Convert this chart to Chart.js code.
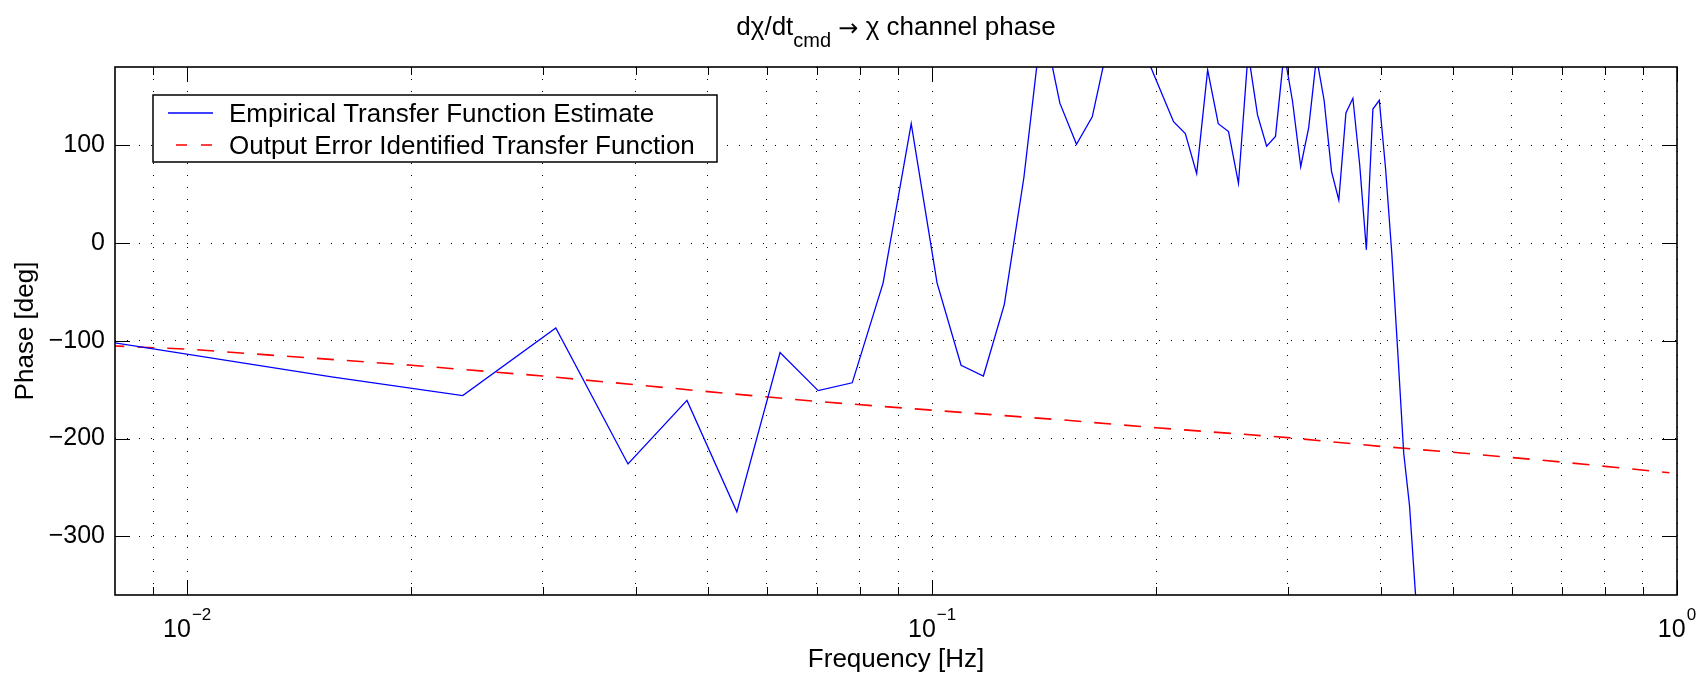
<!DOCTYPE html>
<html lang="en">
<head>
<meta charset="UTF-8">
<title>dχ/dt cmd → χ channel phase</title>
<script src="https://cdn.jsdelivr.net/npm/chart.js"></script>
<style>
  html, body { margin: 0; padding: 0; background: #fff; }
  #chart { display: block; }
</style>
</head>
<body>
<canvas id="chart" width="1702" height="686"></canvas>
<script>
// empirical transfer function estimate (FFT bins, Hz / deg)
const etfeFreq = [
  0.0078125, 0.015625, 0.0234375, 0.03125, 0.0390625, 0.046875, 0.0546875, 0.0625,
  0.0703125, 0.078125, 0.0859375, 0.09375, 0.1015625, 0.109375, 0.1171875, 0.125,
  0.1328125, 0.140625, 0.1484375, 0.15625, 0.1640625, 0.171875, 0.1796875, 0.1875,
  0.1953125, 0.203125, 0.2109375, 0.21875, 0.2265625, 0.234375, 0.2421875, 0.25,
  0.2578125, 0.265625, 0.2734375, 0.28125, 0.2890625, 0.296875, 0.3046875, 0.3125,
  0.3203125, 0.328125, 0.3359375, 0.34375, 0.3515625, 0.359375, 0.3671875, 0.375,
  0.3828125, 0.390625, 0.3984375, 0.40625, 0.4140625, 0.421875, 0.4296875, 0.4375,
  0.4453125, 0.453125
];
const etfePhase = [
  -101, -137, -156, -87, -226, -161, -275, -112,
  -151, -143, -41, 122, -41, -125, -136, -63,
  67, 230, 143, 101, 129, 200, 210, 205,
  185, 154, 124, 112, 71, 177, 122, 114,
  61, 195, 131, 99, 109, 195, 145, 78,
  118, 190, 146, 73, 44, 133, 148, 80,
  -7, 137, 146, 76, -10, -112, -215, -269,
  -356, -430
];

// output error model
const modelFreq = [0.0078125, 0.01, 0.02, 0.03, 0.05, 0.07, 0.1, 0.15, 0.2, 0.3, 0.4, 0.5, 0.7, 0.9765625];
const modelPhase = [-105, -108.5, -125, -136, -152, -162, -171, -181, -189, -199, -208, -214, -224, -235];

const xTickValues = [0.009, 0.01, 0.02, 0.03, 0.04, 0.05, 0.06, 0.07, 0.08, 0.09,
  0.1, 0.2, 0.3, 0.4, 0.5, 0.6, 0.7, 0.8, 0.9, 1];
const xMajorTicks = [0.01, 0.1, 1];
const xTickExponents = ['\u22122', '\u22121', '0'];
const yTickValues = [-300, -200, -100, 0, 100];

const titleParts = [
  { text: 'd\u03c7/dt', kind: 'main' },
  { text: 'cmd', kind: 'sub' },
  { text: ' ', kind: 'main' },
  { text: '\u2192', kind: 'arrow' },
  { text: ' \u03c7 channel phase', kind: 'main' }
];
const xTitle = 'Frequency [Hz]';
const yTitle = 'Phase [deg]';

const FONT = '"Liberation Sans", Arial, Helvetica, sans-serif';
const titleFonts = {
  main: '26px ' + FONT,
  sub: '20px ' + FONT,
  arrow: '24px "DejaVu Sans", sans-serif'
};

const matlabFrame = {
  id: 'matlabFrame',
  afterDraw(chart) {
    const { ctx, chartArea: a, scales: { x, y } } = chart;
    ctx.save();

    // inward tick marks on all four sides
    ctx.strokeStyle = '#000';
    ctx.lineWidth = 1;
    ctx.beginPath();
    xTickValues.forEach(v => {
      const px = Math.round(x.getPixelForValue(v)) + 0.5;
      const len = xMajorTicks.includes(v) ? 15 : 8;
      ctx.moveTo(px, a.bottom); ctx.lineTo(px, a.bottom - len);
      ctx.moveTo(px, a.top); ctx.lineTo(px, a.top + len);
    });
    yTickValues.forEach(v => {
      const py = Math.round(y.getPixelForValue(v)) + 0.5;
      ctx.moveTo(a.left, py); ctx.lineTo(a.left + 15, py);
      ctx.moveTo(a.right, py); ctx.lineTo(a.right - 15, py);
    });
    ctx.stroke();

    ctx.lineWidth = 1.6;
    ctx.strokeRect(a.left, a.top, a.right - a.left, a.bottom - a.top);

    // x tick labels as powers of ten
    ctx.fillStyle = '#000';
    ctx.textAlign = 'left';
    ctx.textBaseline = 'alphabetic';
    xMajorTicks.forEach((v, i) => {
      const px = x.getPixelForValue(v);
      ctx.font = '25px ' + FONT;
      const wBase = ctx.measureText('10').width;
      ctx.font = '17px ' + FONT;
      const wExp = ctx.measureText(xTickExponents[i]).width;
      const left = px - (wBase + wExp + 1) / 2;
      ctx.font = '25px ' + FONT;
      ctx.fillText('10', left, a.bottom + 42);
      ctx.font = '17px ' + FONT;
      ctx.fillText(xTickExponents[i], left + wBase + 1, a.bottom + 25);
    });

    // axis titles
    ctx.font = '26px ' + FONT;
    ctx.textAlign = 'center';
    ctx.fillText(xTitle, (a.left + a.right) / 2, a.bottom + 72);
    ctx.save();
    ctx.translate(33, (a.top + a.bottom) / 2);
    ctx.rotate(-Math.PI / 2);
    ctx.fillText(yTitle, 0, 0);
    ctx.restore();

    // title with subscript
    ctx.textAlign = 'left';
    let total = 0;
    const widths = titleParts.map(p => {
      ctx.font = titleFonts[p.kind];
      const w = ctx.measureText(p.text).width;
      total += w;
      return w;
    });
    let tx = (a.left + a.right) / 2 - total / 2;
    titleParts.forEach((p, i) => {
      ctx.font = titleFonts[p.kind];
      ctx.fillText(p.text, tx, p.kind === 'sub' ? 47 : p.kind === 'arrow' ? 36 : 35);
      tx += widths[i];
    });

    // legend box
    const lx = a.left + 38, ly = a.top + 28, lw = 564, lh = 67;
    ctx.fillStyle = '#fff';
    ctx.fillRect(lx, ly, lw, lh);
    ctx.lineWidth = 1.5;
    ctx.strokeStyle = '#000';
    ctx.strokeRect(lx, ly, lw, lh);
    const rows = [ly + 18, ly + 50];
    chart.data.datasets.forEach((ds, i) => {
      ctx.strokeStyle = ds.borderColor;
      ctx.lineWidth = ds.borderWidth;
      ctx.setLineDash(ds.borderDash ? [11, 14] : []);
      ctx.lineDashOffset = ds.borderDash ? -8 : 0;
      ctx.beginPath();
      ctx.moveTo(lx + 15, rows[i]);
      ctx.lineTo(lx + 60, rows[i]);
      ctx.stroke();
      ctx.setLineDash([]);
      ctx.fillStyle = '#000';
      ctx.font = '26px ' + FONT;
      ctx.textBaseline = 'alphabetic';
      ctx.fillText(ds.label, lx + 76, rows[i] + 9);
    });

    ctx.restore();
  }
};

const ctx = document.getElementById('chart').getContext('2d');
const chart = new Chart(ctx, {
  type: 'line',
  data: {
    datasets: [
      {
        label: 'Empirical Transfer Function Estimate',
        data: etfeFreq.map((f, i) => ({ x: f, y: etfePhase[i] })),
        borderColor: '#0000ff',
        borderWidth: 1.3,
        pointRadius: 0,
        tension: 0,
        fill: false,
        clip: 0
      },
      {
        label: 'Output Error Identified Transfer Function',
        data: modelFreq.map((f, i) => ({ x: f, y: modelPhase[i] })),
        borderColor: '#ff0000',
        borderWidth: 1.6,
        borderDash: [17, 13],
        pointRadius: 0,
        tension: 0,
        fill: false,
        clip: 0
      }
    ]
  },
  options: {
    responsive: false,
    animation: false,
    devicePixelRatio: 1,
    layout: { padding: { left: 0, right: 25, top: 67, bottom: 0 } },
    plugins: {
      legend: { display: false },
      tooltip: { enabled: false },
      title: { display: false }
    },
    scales: {
      x: {
        type: 'logarithmic',
        min: 0.008,
        max: 1,
        afterBuildTicks: s => { s.ticks = xTickValues.map(v => ({ value: v })); },
        afterFit: s => { s.height = 91; },
        ticks: { display: false },
        grid: { color: '#000', lineWidth: 1, drawTicks: false },
        border: { display: false, dash: [1, 11] }
      },
      y: {
        min: -360,
        max: 180,
        afterBuildTicks: s => { s.ticks = yTickValues.map(v => ({ value: v })); },
        afterFit: s => { s.width = 115; },
        ticks: {
          padding: 10,
          color: '#000',
          font: { family: FONT, size: 25 },
          callback: v => String(v).replace('-', '\u2212')
        },
        grid: { color: '#000', lineWidth: 1, drawTicks: false },
        border: { display: false, dash: [1, 11] }
      }
    }
  },
  plugins: [matlabFrame]
});
</script>
</body>
</html>
